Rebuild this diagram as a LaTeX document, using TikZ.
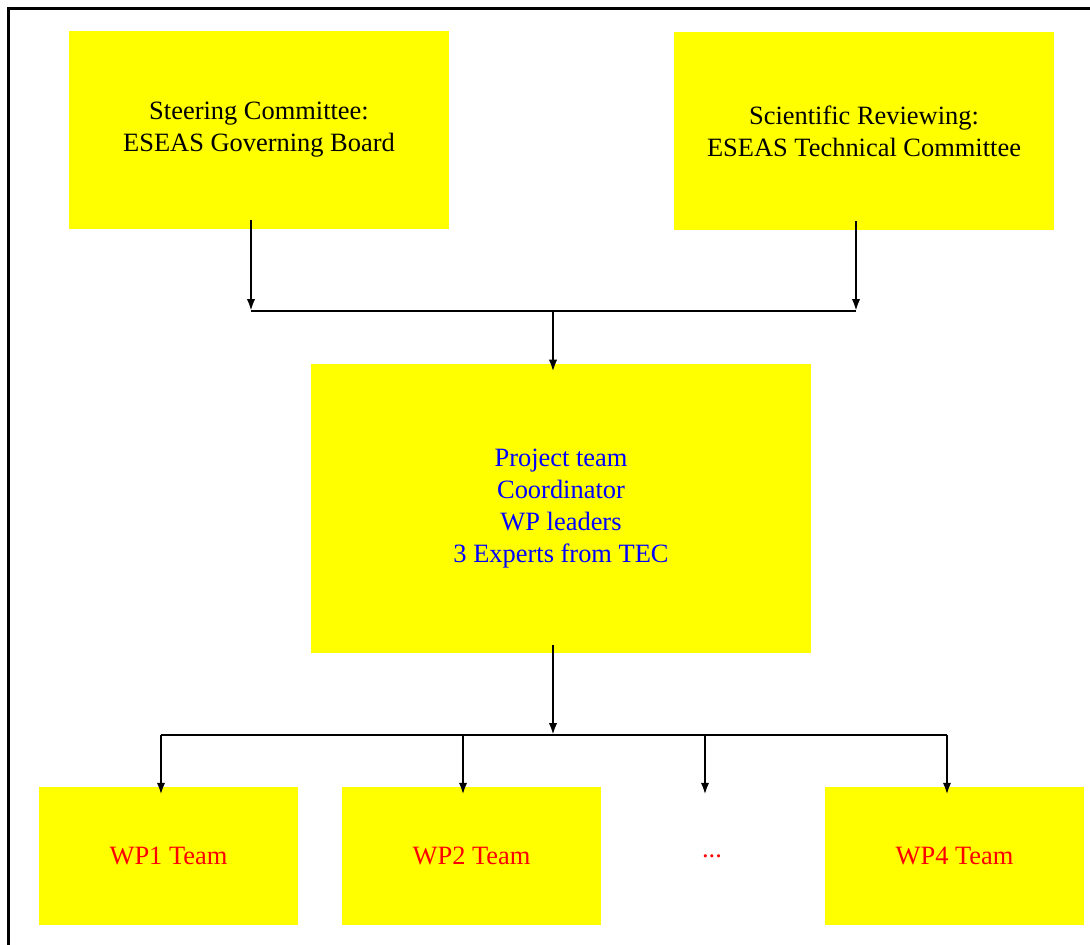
\documentclass[tikz,border=0pt]{standalone}
\usepackage{fontspec}
\setmainfont{Liberation Serif}
\usetikzlibrary{positioning,arrows.meta,calc}

\definecolor{boxyellow}{RGB}{255,255,0}
\definecolor{teamblue}{RGB}{0,0,255}
\definecolor{wpred}{RGB}{255,0,0}

\tikzset{
  board/.style={fill=boxyellow, minimum width=9.5cm, minimum height=4.95cm, align=center,
    font=\fontsize{18.8}{22.8}\selectfont},
  teambox/.style={fill=boxyellow, minimum width=12.5cm, minimum height=7.225cm, align=center,
    text=teamblue, font=\fontsize{18.8}{22.8}\selectfont},
  wpbox/.style={fill=boxyellow, minimum width=6.475cm, minimum height=3.45cm,
    text=wpred, font=\fontsize{18.8}{22.8}\selectfont},
  link/.style={line width=1.6pt, -{Latex[length=8.5pt,width=6pt]}},
}

\begin{document}
\begin{tikzpicture}[x=0.025cm, y=-0.025cm]
  \useasboundingbox (0,0) rectangle (1090,945);
  \draw[line width=2.2pt] (8.5,960) -- (8.5,8.5) -- (1100,8.5);

  % boards
  \node[board] (steer) at (259,130) {Steering Committee:\\ESEAS Governing Board};
  \node[board] (sci) at (864,131) {Scientific Reviewing:\\ESEAS Technical Committee};

  % project team
  \node[teambox] (team) at (561,508.5) {Project team\\Coordinator\\WP leaders\\3 Experts from TEC};

  % work packages
  \node[wpbox] (wp1) at (168.5,856) {WP1 Team};
  \node[wpbox] (wp2) at (471.5,856) {WP2 Team};
  \node[wpbox, fill=none] (dots) at (712,856) {...};
  \node[wpbox] (wp4) at (954.5,856) {WP4 Team};

  % upper connectors
  \coordinate (sj) at (251,311);
  \coordinate (tj) at (856,311);
  \coordinate (mj) at (553,311);
  \draw[link] ($(steer.south -| sj)+(0,-9)$) -- (sj);
  \draw[link] ($(sci.south -| tj)+(0,-9)$) -- (tj);
  \draw[line width=1.6pt] (sj) -- (tj);
  \draw[link] (mj) -- ($(team.north -| mj)+(0,8)$);

  % lower connectors
  \coordinate (wj) at (553,735);
  \coordinate (b1) at (161,735);
  \coordinate (b2) at (463,735);
  \coordinate (b3) at (705,735);
  \coordinate (b4) at (947,735);
  \draw[link] ($(team.south -| wj)+(0,-8)$) -- (wj);
  \draw[line width=1.6pt] (b1) -- (b4);
  \draw[link] (b1) -- ($(wp1.north -| b1)+(0,8)$);
  \draw[link] (b2) -- ($(wp2.north -| b2)+(0,8)$);
  \draw[link] (b3) -- ($(dots.north -| b3)+(0,8)$);
  \draw[link] (b4) -- ($(wp4.north -| b4)+(0,8)$);
\end{tikzpicture}
\end{document}
